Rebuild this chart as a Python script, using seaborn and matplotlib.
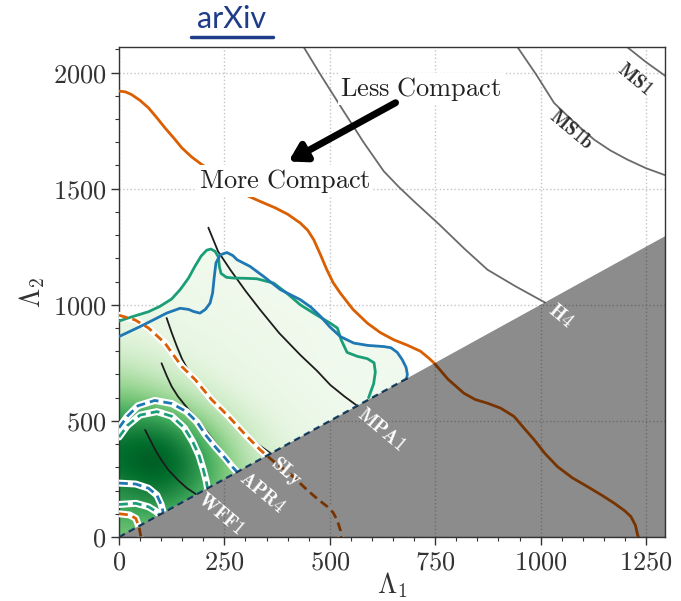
import numpy as np
import matplotlib
matplotlib.use("Agg")
import matplotlib.pyplot as plt
import seaborn as sns
from matplotlib.patches import Polygon
from matplotlib.lines import Line2D
from matplotlib.ticker import MultipleLocator, FuncFormatter

# ---------------- data ----------------
# posterior 90% contours (solid) and 50% contours (dashed), Lambda_1 / Lambda_2
green_l1 = [0, 34, 70, 97, 125, 145, 165, 180, 195, 208, 218, 228, 236, 238, 242, 255, 272, 300,
            327, 367, 398, 430, 465, 501, 518, 527, 541, 565, 589, 605, 608, 604, 592]
green_l2 = [930, 950, 970, 993, 1025, 1065, 1115, 1165, 1210, 1235, 1240, 1230, 1205, 1165, 1135,
            1118, 1115, 1114, 1112, 1093, 1050, 1000, 960, 921, 900, 849, 795, 778, 768, 750, 710,
            660, 600]

blue_l1 = [0, 50, 85, 113, 145, 165, 177, 192, 205, 216, 222, 226, 230, 240, 256, 270, 280, 311,
           343, 383, 430, 455, 478, 500, 525, 557, 590, 628, 645, 660, 672, 681, 684, 682]
blue_l2 = [863, 906, 938, 964, 985, 980, 971, 964, 980, 1007, 1050, 1120, 1180, 1215, 1225, 1212,
           1194, 1165, 1122, 1065, 1022, 990, 950, 905, 863, 835, 825, 820, 815, 795, 763, 730,
           700, 682]

blue50_l1 = [0, 20, 45, 85, 125, 160, 185, 205, 228, 252, 270, 280]
blue50_l2 = [470, 520, 565, 588, 575, 540, 495, 440, 389, 340, 300, 280]
green50_l1 = [0, 20, 50, 90, 125, 155, 175, 190, 200, 207, 210]
green50_l2 = [430, 480, 525, 540, 520, 470, 410, 350, 290, 240, 210]

blue50b_l1 = [0, 40, 70, 90, 100, 105]
blue50b_l2 = [232, 228, 210, 180, 140, 106]
green50b_l1 = [0, 40, 70, 88, 96]
green50b_l2 = [140, 145, 130, 110, 96]

orange_l1 = [0, 15, 30, 50, 70, 90, 109, 130, 149, 172, 197, 250, 299, 335, 371, 400, 430, 448,
             462, 478, 493, 508, 525, 555, 589, 620, 652, 685, 715, 735, 748, 780, 818, 845, 874,
             905, 937, 960, 985, 1010, 1040, 1075, 1111, 1145, 1175, 1200, 1214, 1225, 1230, 1232]
orange_l2 = [1920, 1917, 1905, 1880, 1848, 1805, 1762, 1718, 1676, 1637, 1603, 1540, 1474, 1445,
             1417, 1390, 1352, 1320, 1280, 1215, 1151, 1095, 1050, 980, 921, 880, 849, 825, 800,
             770, 748, 680, 619, 592, 576, 555, 519, 470, 418, 360, 303, 255, 217, 180, 145, 112,
             88, 50, 9, 0]

orange50_l1 = [0, 38, 70, 109, 149, 181, 220, 260, 300, 335, 367, 410, 446, 470, 494, 508, 518,
               525, 527]
orange50_l2 = [955, 935, 900, 835, 734, 677, 591, 519, 440, 375, 325, 265, 203, 165, 131, 105,
               70, 30, 0]
orange50b_l1 = [0, 25, 40, 48, 52]
orange50b_l2 = [100, 95, 80, 40, 0]

# equation-of-state predictions
wff1_l1 = [62, 74, 86, 100, 117, 140, 160, 182]
wff1_l2 = [461, 418, 375, 333, 289, 245, 212, 185]
apr4_l1 = [101, 113, 125, 140, 160, 185, 210, 235, 255, 270, 285]
apr4_l2 = [748, 695, 648, 605, 560, 505, 450, 390, 340, 305, 285]
sly_l1 = [113, 125, 137, 150, 165, 185, 210, 236, 270, 307, 335, 360]
sly_l2 = [943, 880, 822, 765, 715, 665, 612, 565, 500, 435, 392, 360]
mpa1_l1 = [212, 235, 264, 300, 335, 380, 430, 470, 501, 535, 565]
mpa1_l2 = [1332, 1230, 1151, 1060, 978, 878, 784, 715, 655, 605, 565]
h4_l1 = [438, 480, 533, 580, 628, 665, 700, 760, 820, 874, 940, 1010]
h4_l2 = [2110, 1985, 1833, 1700, 1575, 1505, 1445, 1345, 1240, 1151, 1080, 1010]
ms1b_l1 = [945, 990, 1032, 1080, 1127, 1165, 1206, 1250, 1300]
ms1b_l2 = [2110, 1990, 1869, 1785, 1711, 1665, 1625, 1588, 1555]
ms1_l1 = [1205, 1250, 1300]
ms1_l2 = [2110, 2045, 1980]

eos_names = ["WFF1", "APR4", "SLy", "MPA1", "H4", "MS1b", "MS1"]
eos_label_l1 = [240, 339, 396, 622, 1048, 1072, 1222]
eos_label_l2 = [99, 188, 281, 461, 953, 1754, 1970]

# posterior density on a coarse grid (rows: Lambda_2 = 0..1200, cols: Lambda_1 = 0..700)
dens_l1 = [0, 100, 200, 300, 400, 500, 600, 700]
dens_l2 = [0, 100, 200, 300, 400, 500, 600, 700, 800, 900, 1000, 1100, 1200]
density = [
    [0.50, 0.45, 0.30, 0.20, 0.12, 0.08, 0.06, 0.05],
    [0.60, 0.65, 0.45, 0.25, 0.15, 0.10, 0.07, 0.05],
    [0.72, 0.88, 0.62, 0.32, 0.15, 0.10, 0.07, 0.05],
    [0.85, 1.00, 0.70, 0.30, 0.15, 0.10, 0.07, 0.05],
    [0.85, 0.95, 0.62, 0.25, 0.12, 0.08, 0.06, 0.05],
    [0.70, 0.72, 0.42, 0.18, 0.10, 0.07, 0.05, 0.05],
    [0.50, 0.42, 0.24, 0.12, 0.08, 0.06, 0.05, 0.04],
    [0.34, 0.24, 0.14, 0.09, 0.07, 0.05, 0.05, 0.04],
    [0.20, 0.14, 0.10, 0.08, 0.06, 0.05, 0.04, 0.04],
    [0.12, 0.10, 0.08, 0.07, 0.06, 0.05, 0.04, 0.03],
    [0.08, 0.08, 0.07, 0.06, 0.05, 0.04, 0.04, 0.03],
    [0.06, 0.06, 0.06, 0.05, 0.04, 0.04, 0.03, 0.03],
    [0.05, 0.05, 0.05, 0.05, 0.03, 0.03, 0.03, 0.03],
]

xticks = [0, 250, 500, 750, 1000, 1250]
yticks = [0, 500, 1000, 1500, 2000]

# ---------------- style ----------------
sns.set_theme(style="ticks")
plt.rcParams["mathtext.fontset"] = "cm"
plt.rcParams["font.family"] = ["DejaVu Serif"]

GREEN = "#1b9e77"
ORANGE = "#d95f02"
BLUE = "#1f78b4"
LIGHT = "#eef7eb"
DASH = (0, (3.2, 1.8))

fig = plt.figure(figsize=(6.81, 6.01), dpi=100)
ax = fig.add_axes([0.1747, 0.1065, 0.8018, 0.8153])
XMAX, YMAX = 1295, 2110


def curve(l1, l2, color, lw=2.0, ls="-", halo=False, z=3):
    if halo:
        # continuous white outline underneath the dashed contour
        sns.lineplot(x=l1, y=l2, sort=False, estimator=None, color="white", lw=lw + 3.0,
                     ax=ax, zorder=z - 0.05, legend=False, solid_joinstyle="round",
                     solid_capstyle="round")
    sns.lineplot(x=l1, y=l2, sort=False, estimator=None, color=color, lw=lw,
                 linestyle=ls, ax=ax, zorder=z, legend=False,
                 solid_joinstyle="round", dash_joinstyle="round")


# light fill of the 90% regions, closed along the equal-mass line
regions = []
for l1, l2 in [(green_l1, green_l2), (blue_l1, blue_l2)]:
    verts = list(zip(l1, l2)) + [(0, 0)]
    poly = Polygon(verts, closed=True, facecolor=LIGHT, edgecolor="none", zorder=1)
    ax.add_patch(poly)
    regions.append(poly)

# density shading, shown only inside the 90% regions
dx = (dens_l1[1] - dens_l1[0]) / 2
dy = (dens_l2[1] - dens_l2[0]) / 2
for poly in regions:
    im = ax.imshow(np.array(density), origin="lower", cmap="Greens", vmin=0, vmax=1,
                   extent=[dens_l1[0] - dx, dens_l1[-1] + dx, dens_l2[0] - dy, dens_l2[-1] + dy],
                   interpolation="bicubic", aspect="auto", zorder=1.5)
    im.set_clip_path(poly)

# equation-of-state curves
for l1, l2 in [(wff1_l1, wff1_l2), (apr4_l1, apr4_l2), (sly_l1, sly_l2), (mpa1_l1, mpa1_l2)]:
    curve(l1, l2, "#1c1c1c", lw=1.3, z=2)
for l1, l2 in [(h4_l1, h4_l2), (ms1b_l1, ms1b_l2), (ms1_l1, ms1_l2)]:
    curve(l1, l2, "#6a6a6a", lw=1.3, z=2)

# posterior contours
curve(green_l1, green_l2, GREEN, lw=2.0)
curve(blue_l1, blue_l2, BLUE, lw=2.0)
curve(orange_l1, orange_l2, ORANGE, lw=2.0)
curve(orange50_l1, orange50_l2, ORANGE, lw=2.0, ls=DASH, halo=True)
curve(orange50b_l1, orange50b_l2, ORANGE, lw=2.0, ls=DASH, halo=True)
curve(green50_l1, green50_l2, GREEN, lw=2.0, ls=DASH, halo=True, z=3.2)
curve(blue50_l1, blue50_l2, BLUE, lw=2.0, ls=DASH, halo=True, z=3.4)
curve(green50b_l1, green50b_l2, GREEN, lw=2.0, ls=DASH, halo=True, z=3.2)
curve(blue50b_l1, blue50b_l2, BLUE, lw=2.0, ls=DASH, halo=True, z=3.4)
curve([0, 684], [0, 684], "#1d4f7a", lw=1.6, ls=(0, (3, 2)), z=3.6)

# excluded region Lambda_2 < Lambda_1
ax.add_patch(Polygon([(0, 0), (XMAX + 50, XMAX + 50), (XMAX + 50, 0)], closed=True,
                     facecolor="black", alpha=0.45, edgecolor="none", zorder=4))

for name, x, y in zip(eos_names, eos_label_l1, eos_label_l2):
    c = "white" if name not in ("MS1b", "MS1") else "#2a2a2a"
    ax.text(x, y, r"$\mathbf{%s}$" % name, color=c, fontsize=14, rotation=-40,
            ha="center", va="center", zorder=5)

ax.text(716, 1898, r"$\mathrm{Less\ Compact}$", fontsize=19, ha="center", va="baseline",
        color="#222222", zorder=6,
        bbox=dict(facecolor="white", edgecolor="none", pad=1.5))
ax.text(394, 1503, r"$\mathrm{More\ Compact}$", fontsize=19, ha="center", va="baseline",
        color="#222222", zorder=6,
        bbox=dict(facecolor="white", edgecolor="none", pad=1.5))
ax.annotate("", xy=(402, 1617), xytext=(656, 1870), zorder=7,
            arrowprops=dict(arrowstyle="-|>,head_length=0.5,head_width=0.3", lw=5,
                            color="black", shrinkA=0, shrinkB=0, mutation_scale=20))

# axes
ax.set_xlim(0, XMAX)
ax.set_ylim(0, YMAX)
ax.set_xticks(xticks)
ax.set_yticks(yticks)
ax.xaxis.set_minor_locator(MultipleLocator(50))
ax.yaxis.set_minor_locator(MultipleLocator(100))
fmt = FuncFormatter(lambda v, p: r"$\mathrm{%d}$" % v)
ax.xaxis.set_major_formatter(fmt)
ax.yaxis.set_major_formatter(fmt)
ax.tick_params(which="major", direction="out", length=6, width=1.0, labelsize=19,
               colors="#333333", labelcolor="#333333", pad=3)
ax.tick_params(which="minor", direction="out", length=3, width=0.8, colors="#333333")
ax.grid(True, which="major", linestyle=":", color="#c4c4c4", lw=1.0)
ax.set_axisbelow(True)
for s in ax.spines.values():
    s.set_visible(True)
    s.set_linewidth(1.0)
    s.set_color("#333333")
ax.set_xlabel(r"$\Lambda_1$", fontsize=20, color="#333333", labelpad=-3)
ax.set_ylabel(r"$\Lambda_2$", fontsize=20, color="#333333", labelpad=4)

# source link above the panel
fig.text(232 / 681, 1 - 19 / 601, "arXiv", family="Lato", fontsize=22, color="#1f3c88",
         ha="center", va="center")
fig.add_artist(Line2D([191 / 681, 273 / 681], [1 - 37 / 601] * 2, color="#1f3c88", lw=2.5))

fig.savefig("out.png", dpi=100)
